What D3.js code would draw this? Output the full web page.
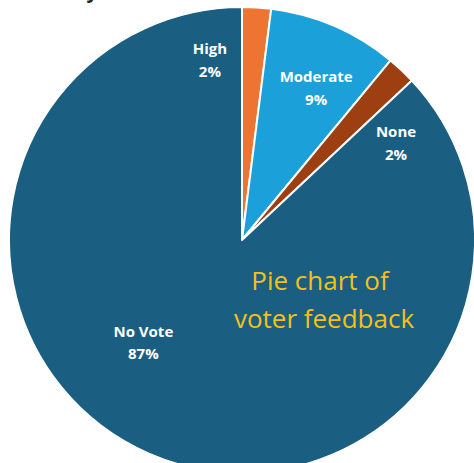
<!doctype html>
<html lang="en">
<head>
<meta charset="utf-8">
<title>Pie chart of voter feedback</title>
<script src="https://cdn.jsdelivr.net/npm/d3@7"></script>
<style>
  html, body { margin: 0; padding: 0; background: #fff; }
  #container { width: 474px; height: 463px; overflow: hidden; }
  .lbl { font-family: "Open Sans", sans-serif; font-weight: 700; font-size: 15px; fill: #fff; }
  .note { font-family: "Open Sans", sans-serif; font-size: 26px; fill: #f4c01a; }
</style>
</head>
<body>
<div id="container"></div>
<script>
// data
const categories = ['High', 'Moderate', 'None', 'No Vote'];
const shares = [2, 9, 2, 87];
const sliceColors = ['#ee7431', '#1ba0da', '#9e3f12', '#1a5e81'];

// label nudges (radius, extra angle in degrees), Excel "best fit" look
const labelPos = [
  {r: 185, shift: -13.6},
  {r: 171, shift: 2.3},
  {r: 183, shift: 14.1},
  {r: 141, shift: 21}
];

const width = 474, height = 463;
const cx = 242, cy = 240, radius = 233;

const svg = d3.select('#container').append('svg')
  .attr('width', width)
  .attr('height', height);

// title, mostly cut off at the top of the crop
svg.append('text')
  .attr('x', 30)
  .attr('y', -2)
  .style('font-family', '"Open Sans", sans-serif')
  .style('font-size', '20px')
  .style('font-weight', 700)
  .style('fill', '#222')
  .text('Survey feedback');

const g = svg.append('g')
  .attr('transform', 'translate(' + cx + ',' + cy + ')');

const pie = d3.pie().sort(null).value(d => d);
const arcs = pie(shares);

const arc = d3.arc().innerRadius(0).outerRadius(radius);

g.selectAll('path')
  .data(arcs)
  .enter()
  .append('path')
  .attr('d', arc)
  .attr('fill', (d, i) => sliceColors[i])
  .attr('stroke', '#fff')
  .attr('stroke-width', 2)
  .attr('stroke-linejoin', 'round');

// data labels
const lab = g.selectAll('.lbl')
  .data(arcs)
  .enter()
  .append('text')
  .attr('class', 'lbl')
  .attr('text-anchor', 'middle')
  .attr('transform', (d, i) => {
    const a = (d.startAngle + d.endAngle) / 2 + labelPos[i].shift * Math.PI / 180;
    const x = Math.sin(a) * labelPos[i].r;
    const y = -Math.cos(a) * labelPos[i].r;
    return 'translate(' + x + ',' + y + ')';
  });

lab.append('tspan')
  .attr('x', 0)
  .attr('dy', '-0.25em')
  .text((d, i) => categories[i]);

lab.append('tspan')
  .attr('x', 0)
  .attr('dy', '1.5em')
  .text(d => d.data + '%');

// caption inside the pie
const note = svg.append('text')
  .attr('class', 'note')
  .attr('text-anchor', 'middle');

note.append('tspan').attr('x', 320).attr('y', 290).text('Pie chart of');
note.append('tspan').attr('x', 324).attr('y', 328).text('voter feedback');
</script>
</body>
</html>
